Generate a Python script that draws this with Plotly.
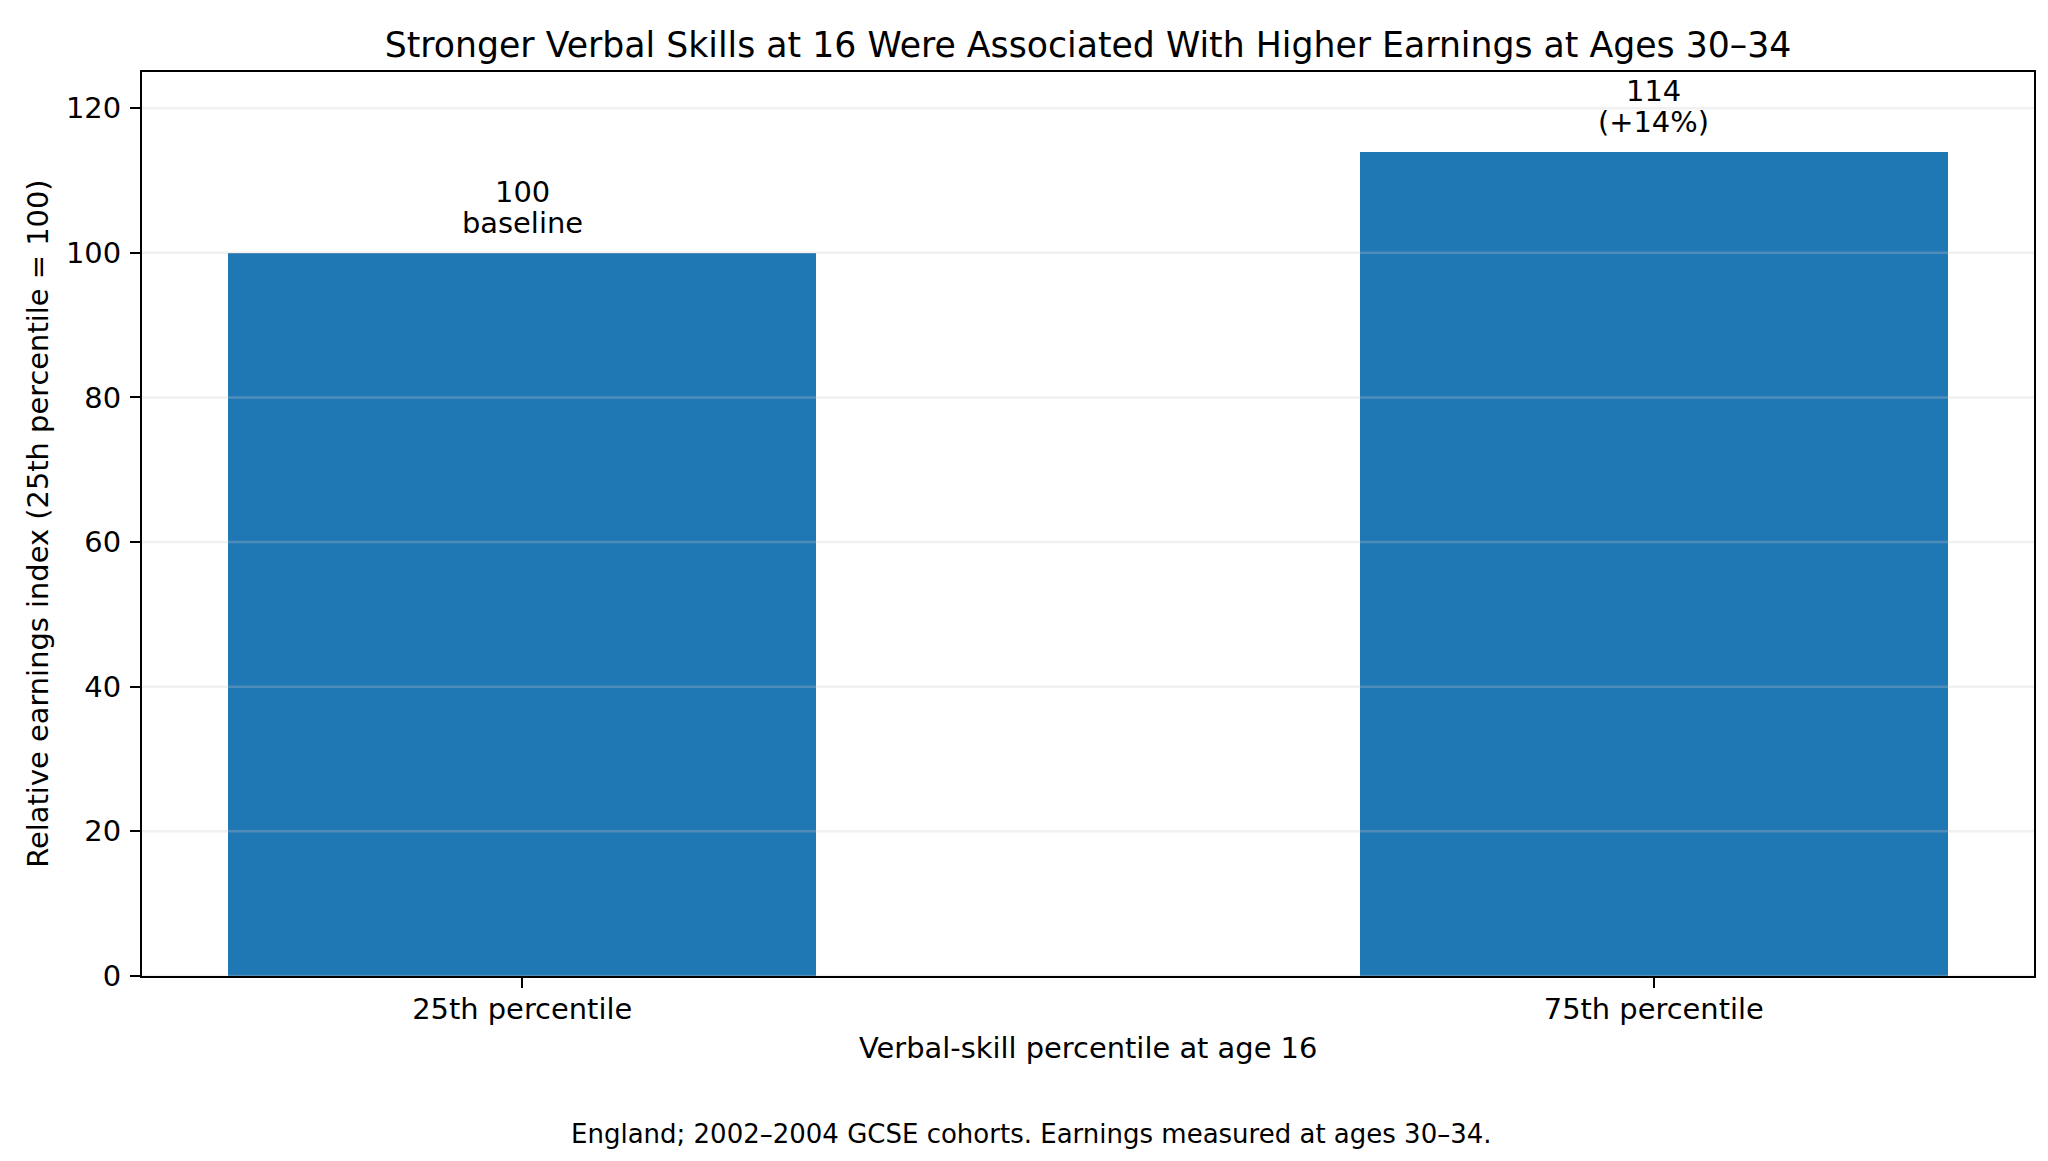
import plotly.graph_objects as go

# data
categories = ["25th percentile", "75th percentile"]
earnings_index = [100, 114]
value_labels = ["100", "114"]
note_labels = ["baseline", "(+14%)"]
y_ticks = [0, 20, 40, 60, 80, 100, 120]

FONT = "DejaVu Sans"
BLUE = "#1f77b4"
FS = 28.9  # 10pt at ~208 dpi

fig = go.Figure()

fig.add_trace(go.Bar(
    x=[0, 1],
    y=earnings_index,
    width=0.52,
    marker=dict(color=BLUE, line=dict(width=0)),
    hoverinfo="skip",
    showlegend=False,
))

# two-line labels above each bar (split so line spacing stays tight)
for i, val in enumerate(earnings_index):
    fig.add_annotation(
        x=i, y=val, text=value_labels[i], showarrow=False,
        xanchor="center", yanchor="middle", yshift=61,
        font=dict(family=FONT, size=FS, color="black"),
    )
    fig.add_annotation(
        x=i, y=val, text=note_labels[i], showarrow=False,
        xanchor="center", yanchor="middle", yshift=29.5,
        font=dict(family=FONT, size=FS, color="black"),
    )

# faint gridlines drawn on top of bars like the original
for t in y_ticks:
    fig.add_shape(
        type="line", xref="paper", x0=0, x1=1, yref="y", y0=t, y1=t,
        line=dict(color="rgba(200,200,200,0.28)", width=2.5),
        layer="above",
    )

fig.update_layout(
    width=2048, height=1161,
    margin=dict(l=134, r=22, t=64, b=193),
    paper_bgcolor="white", plot_bgcolor="white",
    font=dict(family=FONT, size=FS, color="black"),
    title=dict(
        text="Stronger Verbal Skills at 16 Were Associated With Higher Earnings at Ages 30–34",
        x=0.5, xref="paper", xanchor="center",
        y=0.9685, yref="container", yanchor="middle",
        font=dict(family=FONT, size=34.7, color="black"),
    ),
    bargap=0,
)

fig.update_xaxes(
    range=[-0.336, 1.336],
    tickmode="array", tickvals=[0, 1], ticktext=categories,
    ticks="outside", ticklen=10, tickwidth=2.3, tickcolor="black",
    ticklabelstandoff=-4,
    showline=True, linecolor="black", linewidth=2.3, mirror=True,
    showgrid=False, zeroline=False,
    tickfont=dict(family=FONT, size=FS),
)
fig.update_yaxes(
    range=[0, 125],
    tickmode="array", tickvals=y_ticks,
    ticks="outside", ticklen=10, tickwidth=2.3, tickcolor="black",
    ticklabelstandoff=3,
    showline=True, linecolor="black", linewidth=2.3, mirror=True,
    showgrid=False, zeroline=False,
    tickfont=dict(family=FONT, size=FS),
)

# axis titles and caption
fig.add_annotation(
    text="Verbal-skill percentile at age 16", xref="paper", yref="paper",
    x=0.5, y=-0.0796, xanchor="center", yanchor="middle", showarrow=False,
    font=dict(family=FONT, size=FS),
)
fig.add_annotation(
    text="Relative earnings index (25th percentile = 100)", xref="paper", yref="paper",
    x=-0.0551, y=0.5, xanchor="center", yanchor="middle", textangle=-90, showarrow=False,
    font=dict(family=FONT, size=FS),
)
fig.add_annotation(
    text="England; 2002–2004 GCSE cohorts. Earnings measured at ages 30–34.",
    xref="paper", yref="paper",
    x=0.4703, y=-0.1748, xanchor="center", yanchor="middle", showarrow=False,
    font=dict(family=FONT, size=26),
)

fig.write_html("out.html")
